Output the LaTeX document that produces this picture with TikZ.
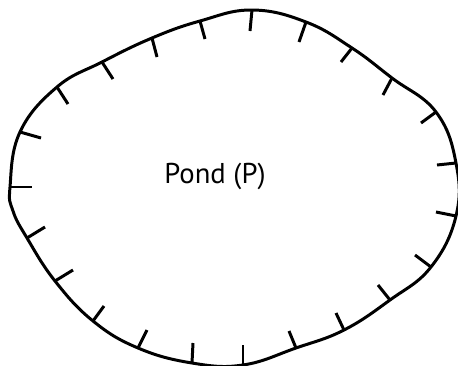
\documentclass[tikz,border=0pt]{standalone}
\usepackage{fontspec}
\setmainfont{PT Sans}
\begin{document}
\begin{tikzpicture}[
  x=0.02cm, y=-0.02cm,
  shore/.style={line width=1.7pt,line join=round},
  tick/.style={line width=1.7pt},
  label/.style={font=\fontsize{16.3}{19}\selectfont}
]
\useasboundingbox (0,0) rectangle (458,366);

% ===== POND OUTLINE =====
\draw[shore] plot[smooth cycle,tension=0.7] coordinates {
  (10,187) (20,132) (57,87) (102,62) (152,38) (200,21)
  (252,10) (306,22) (352,48) (392,78) (436,112)
  (456,163) (456,216) (431,267) (390,300) (344,330) (296,348)
  (243,365) (192,363) (138,348) (93,321) (55,281) (27,238) (13,211)};

% ===== TICKS (pointing inward) =====
% top-left
\draw[tick] (20,132) -- (41,138);
\draw[tick] (57,87) -- (68,104);
\draw[tick] (102,62) -- (113,79);
\draw[tick] (152,38) -- (157,57);
\draw[tick] (200,21) -- (205,39);
\draw[tick] (252,10) -- (250,31);
% top-right
\draw[tick] (306,22) -- (299,42);
\draw[tick] (352,48) -- (341,62);
\draw[tick] (392,78) -- (383,95);
\draw[tick] (436,112) -- (421,123);
\draw[tick] (456,163) -- (437,165);
% bottom-right
\draw[tick] (456,216) -- (436,212);
\draw[tick] (431,267) -- (415,255);
\draw[tick] (390,300) -- (378,285);
\draw[tick] (344,330) -- (336,313);
\draw[tick] (296,348) -- (289,331);
\draw[tick] (243,365) -- (243,345);
% bottom-left
\draw[tick] (192,363) -- (193,343);
\draw[tick] (138,348) -- (147,330);
\draw[tick] (93,321) -- (104,306);
\draw[tick] (55,281) -- (73,270);
\draw[tick] (27,238) -- (45,227);
\draw[tick] (10,187) -- (32,187);

% Label
\node[label] (pond) at (215,176) {Pond (P)};

\end{tikzpicture}
\end{document}
